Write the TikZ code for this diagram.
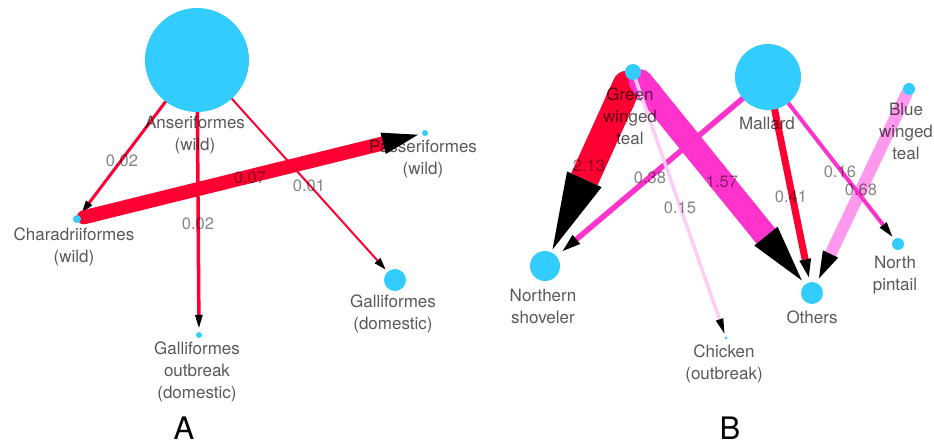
\documentclass[tikz,border=0pt]{standalone}
\usepackage{fontspec}
\setmainfont{TeX Gyre Heros}
\usetikzlibrary{arrows.meta,backgrounds}

\definecolor{nodecyan}{HTML}{33CCFF}
\definecolor{flowred}{HTML}{FF0033}
\definecolor{flowmag}{HTML}{FF33CC}
\definecolor{flowpink}{HTML}{FF99EE}
\definecolor{flowpale}{HTML}{FFCCF5}

\tikzset{
  taxon/.style={circle, fill=nodecyan, inner sep=0pt, minimum size=#1},
  taxonlabel/.style={align=center, font=\fontsize{17}{22}\selectfont,
    text=black, text opacity=0.65, inner sep=0pt},
  ratelabel/.style={font=\fontsize{16.5}{20}\selectfont,
    text=black, text opacity=0.48, inner sep=0pt},
  panelletter/.style={font=\fontsize{31}{36}\selectfont, inner sep=0pt,
    text depth=0pt, anchor=base},
  head/.style 2 args={-{Stealth[length=#1, width=#2, inset=0pt,
    line width=0pt, color=black]}},
  roundhead/.style 2 args={{Round Cap[]}-{Stealth[length=#1, width=#2,
    inset=0pt, line width=0pt, color=black]}},
}

\begin{document}
\begin{tikzpicture}[x=1pt, y=-1pt]
\useasboundingbox (0,0) rectangle (934,444);

% ---------- panel A: host orders ----------
\node[taxon=104pt] (ans)  at (197,60)  {};
\node[taxon=8pt]   (cha)  at (77,219)  {};
\node[taxon=6pt]   (pas)  at (425,133) {};
\node[taxon=6pt]   (gout) at (199,335) {};
\node[taxon=22pt]  (gdom) at (395,280) {};

\begin{scope}[on background layer]
  \draw[flowred, line width=3pt, head={12pt}{8pt}, shorten >=4pt]
    (ans.center) -- (cha);
  \draw[flowred, line width=3.5pt, head={13pt}{8pt}, shorten >=4pt]
    (ans.center) -- (gout);
  \draw[flowred, line width=2pt, head={12pt}{8pt}, shorten >=3pt]
    (ans.center) -- (gdom);
  \draw[flowred, line width=14pt, roundhead={36pt}{22pt}, shorten >=4pt]
    (cha.center) -- (pas);
\end{scope}

\node[taxonlabel] (ansl)  at (195,135) {Anseriformes\\(wild)};
\node[taxonlabel] (chal)  at (74,247)  {Charadriiformes\\(wild)};
\node[taxonlabel] (pasl)  at (423,159) {Passeriformes\\(wild)};
\node[taxonlabel] (goutl) at (197,372) {Galliformes\\outbreak\\(domestic)};
\node[taxonlabel] (gdoml) at (393,314) {Galliformes\\(domestic)};

\node[ratelabel] (ra1) at (122,161) {0.02};
\node[ratelabel] (ra2) at (198,224) {0.02};
\node[ratelabel] (ra3) at (250,178) {0.07};
\node[ratelabel] (ra4) at (309,186) {0.01};

\node[panelletter] (pa) at (184,439) {A};

% ---------- panel B: waterfowl species ----------
\node[taxon=16pt] (gwt) at (633,72)  {};
\node[taxon=66pt] (mal) at (768,77)  {};
\node[taxon=12pt] (bwt) at (909,89)  {};
\node[taxon=30pt] (ns)  at (545,266) {};
\node[taxon=3pt]  (chk) at (726,338) {};
\node[taxon=22pt] (oth) at (812,293) {};
\node[taxon=12pt] (pin) at (898,244) {};

\begin{scope}[on background layer]
  \draw[flowred, line width=29pt, roundhead={77pt}{38pt}, shorten >=3pt]
    (gwt.center) -- (ns);
  \draw[flowmag, line width=24pt, roundhead={57pt}{30pt}, shorten >=5pt]
    (gwt.center) -- (oth);
  \draw[flowmag, line width=5.5pt, head={18pt}{12pt}, shorten >=8pt]
    (mal.center) -- (ns);
  \draw[flowpale, line width=3.5pt, head={15pt}{8pt}, shorten >=3pt]
    (gwt.center) -- (chk);
  \draw[flowred, line width=7pt, head={18pt}{12pt}, shorten >=5pt]
    (mal.center) -- (oth);
  \draw[flowpink, line width=12pt, roundhead={27pt}{17pt}, shorten >=5pt]
    (bwt.center) -- (oth);
  \draw[flowmag, line width=4pt, head={15pt}{9pt}, shorten >=3pt]
    (mal.center) -- (pin);
\end{scope}

\node[taxonlabel] (gwtl) at (630,116) {Green\\winged\\teal};
\node[taxonlabel] (mall) at (767,123) {Mallard};
\node[taxonlabel] (bwtl) at (906,131) {Blue\\winged\\teal};
\node[taxonlabel] (nsl)  at (543,306) {Northern\\shoveler};
\node[taxonlabel] (chkl) at (724,364) {Chicken\\(outbreak)};
\node[taxonlabel] (othl) at (812,317) {Others};
\node[taxonlabel] (pinl) at (895,275) {North\\pintail};

\node[ratelabel] (rb1) at (589,166) {2.13};
\node[ratelabel] (rb2) at (650,178) {0.38};
\node[ratelabel] (rb3) at (722,182) {1.57};
\node[ratelabel] (rb4) at (680,208) {0.15};
\node[ratelabel] (rb5) at (791,197) {0.41};
\node[ratelabel] (rb6) at (840,172) {0.16};
\node[ratelabel] (rb7) at (861,190) {0.68};

\node[panelletter] (pb) at (730,439) {B};
\end{tikzpicture}
\end{document}
